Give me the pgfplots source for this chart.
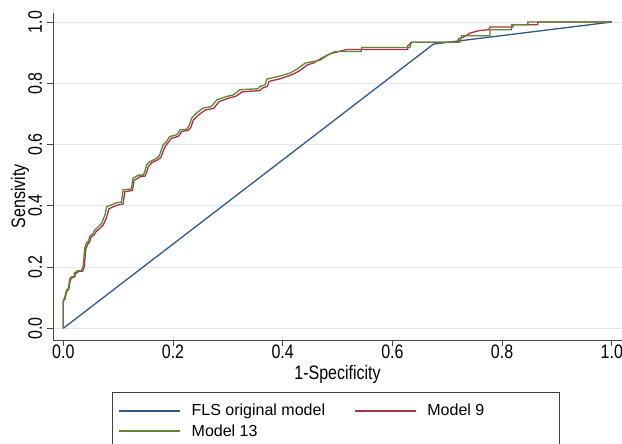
\documentclass[border=0pt]{standalone}
\usepackage{fontspec}
\setmainfont{Liberation Sans}[FakeStretch=0.82]
\newfontfamily\legfont{Liberation Sans}
\usepackage{pgfplots}
\pgfplotsset{compat=1.18}
\definecolor{stblue}{RGB}{45,88,135}
\definecolor{stred}{RGB}{168,50,62}
\definecolor{stgreen}{RGB}{98,130,52}
\definecolor{gridc}{RGB}{226,234,238}
\definecolor{axc}{RGB}{70,70,70}
\newcommand{\bigf}{\fontsize{19.5pt}{23pt}\selectfont}
\newcommand{\legf}{\legfont\fontsize{16pt}{19pt}\selectfont}
\begin{document}
\begin{tikzpicture}
\begin{axis}[
  scale only axis, width=569pt, height=327pt,
  xmin=-0.0188, xmax=1.0186, ymin=-0.0382, ymax=1.0294,
  axis x line*=bottom, axis y line*=left,
  axis line style={axc, line width=0.8pt, -},
  xtick={0,0.2,0.4,0.6,0.8,1}, ytick={0,0.2,0.4,0.6,0.8,1},
  xticklabels={0.0,0.2,0.4,0.6,0.8,1.0},
  yticklabels={0.0,0.2,0.4,0.6,0.8,1.0},
  xtick pos=lower, ytick pos=left,
  tick align=outside, tick style={axc, line width=0.8pt},
  major tick length=6pt,
  ymajorgrids, grid style={gridc, line width=0.9pt},
  tick label style={font=\bigf},
  label style={font=\bigf},
  xticklabel style={anchor=base, yshift=-13pt},
  yticklabel style={xshift=-5pt, rotate=90, anchor=base},
  xlabel={1-Specificity}, ylabel={Sensivity},
  xlabel style={at={(axis description cs:0.5,-0.1223)}, anchor=base},
  ylabel style={at={(axis description cs:-0.0492,0.44)}, anchor=base},
  legend style={at={(axis description cs:0.10369,-0.15902)}, anchor=north west,
    draw=black!75, line width=0.8pt, inner xsep=6pt, inner ysep=10pt,
    font=\legf, row sep=3pt,
    /tikz/every odd column/.append style={column sep=9pt},
    /tikz/every even column/.append style={column sep=27pt}},
  legend columns=2, legend cell align=left,
  legend image code/.code={\draw[#1,line width=1.3pt] (0pt,0pt) -- (61pt,0pt);},
]
\addplot[stblue, line width=1.3pt, no markers] coordinates {
(0,0) (0.675,0.928) (1,1)};
\addlegendentry{FLS original model}
\addplot[stred, line width=1.3pt, no markers] coordinates {
(0,0) (0,0.09) (0.003,0.095) (0.006,0.12) (0.01,0.128) (0.013,0.16)
(0.017,0.166) (0.021,0.168) (0.022,0.178) (0.028,0.186) (0.035,0.186)
(0.038,0.2) (0.041,0.258) (0.044,0.274) (0.048,0.282) (0.05,0.296)
(0.056,0.305) (0.06,0.316) (0.067,0.327) (0.073,0.338) (0.079,0.362)
(0.083,0.39) (0.09,0.396) (0.1,0.403) (0.109,0.406) (0.112,0.446)
(0.126,0.45) (0.129,0.483) (0.14,0.495) (0.149,0.497) (0.152,0.51)
(0.155,0.528) (0.161,0.54) (0.17,0.548) (0.178,0.558) (0.185,0.592)
(0.191,0.606) (0.197,0.62) (0.21,0.627) (0.216,0.643) (0.228,0.646)
(0.233,0.658) (0.237,0.68) (0.247,0.697) (0.259,0.713) (0.274,0.718)
(0.284,0.74) (0.302,0.752) (0.314,0.757) (0.326,0.772) (0.358,0.776)
(0.363,0.784) (0.372,0.79) (0.375,0.806) (0.396,0.815) (0.417,0.828)
(0.43,0.84) (0.445,0.86) (0.456,0.866) (0.471,0.882) (0.486,0.896)
(0.516,0.91) (0.628,0.91) (0.628,0.922) (0.635,0.934) (0.719,0.934)
(0.72,0.944) (0.73,0.951) (0.742,0.964) (0.758,0.972) (0.776,0.975)
(0.778,0.984) (0.82,0.984) (0.82,0.991) (0.865,0.991) (0.865,1.0) (1,1)};
\addlegendentry{Model 9\hspace*{67pt}}
\addplot[stgreen, line width=1.3pt, no markers] coordinates {
(0,0) (0,0.092) (0.002,0.098) (0.006,0.125) (0.009,0.13) (0.012,0.163)
(0.015,0.168) (0.02,0.169) (0.02,0.18) (0.026,0.188) (0.033,0.188)
(0.036,0.2) (0.039,0.262) (0.042,0.278) (0.046,0.285) (0.048,0.3)
(0.054,0.31) (0.057,0.32) (0.064,0.332) (0.07,0.343) (0.076,0.37)
(0.079,0.397) (0.088,0.403) (0.097,0.41) (0.106,0.412) (0.109,0.452)
(0.124,0.455) (0.127,0.49) (0.137,0.5) (0.146,0.5) (0.149,0.515)
(0.152,0.534) (0.158,0.544) (0.167,0.552) (0.175,0.563) (0.182,0.599)
(0.188,0.61) (0.194,0.626) (0.207,0.632) (0.213,0.648) (0.225,0.65)
(0.23,0.664) (0.234,0.686) (0.243,0.703) (0.255,0.719) (0.27,0.724)
(0.28,0.746) (0.298,0.757) (0.31,0.762) (0.322,0.779) (0.355,0.782)
(0.359,0.79) (0.368,0.795) (0.371,0.814) (0.392,0.822) (0.413,0.833)
(0.426,0.846) (0.441,0.866) (0.468,0.875) (0.483,0.893) (0.49,0.899)
(0.495,0.904) (0.543,0.904) (0.544,0.917) (0.632,0.917) (0.635,0.934)
(0.723,0.934) (0.726,0.955) (0.778,0.955) (0.778,0.975) (0.817,0.975)
(0.817,0.991) (0.847,0.991) (0.847,1.0) (1,1)};
\addlegendentry{Model 13}
\end{axis}
\pgfresetboundingbox
\path (-53pt,-104pt) rectangle (569pt,340pt);
\end{tikzpicture}
\end{document}
